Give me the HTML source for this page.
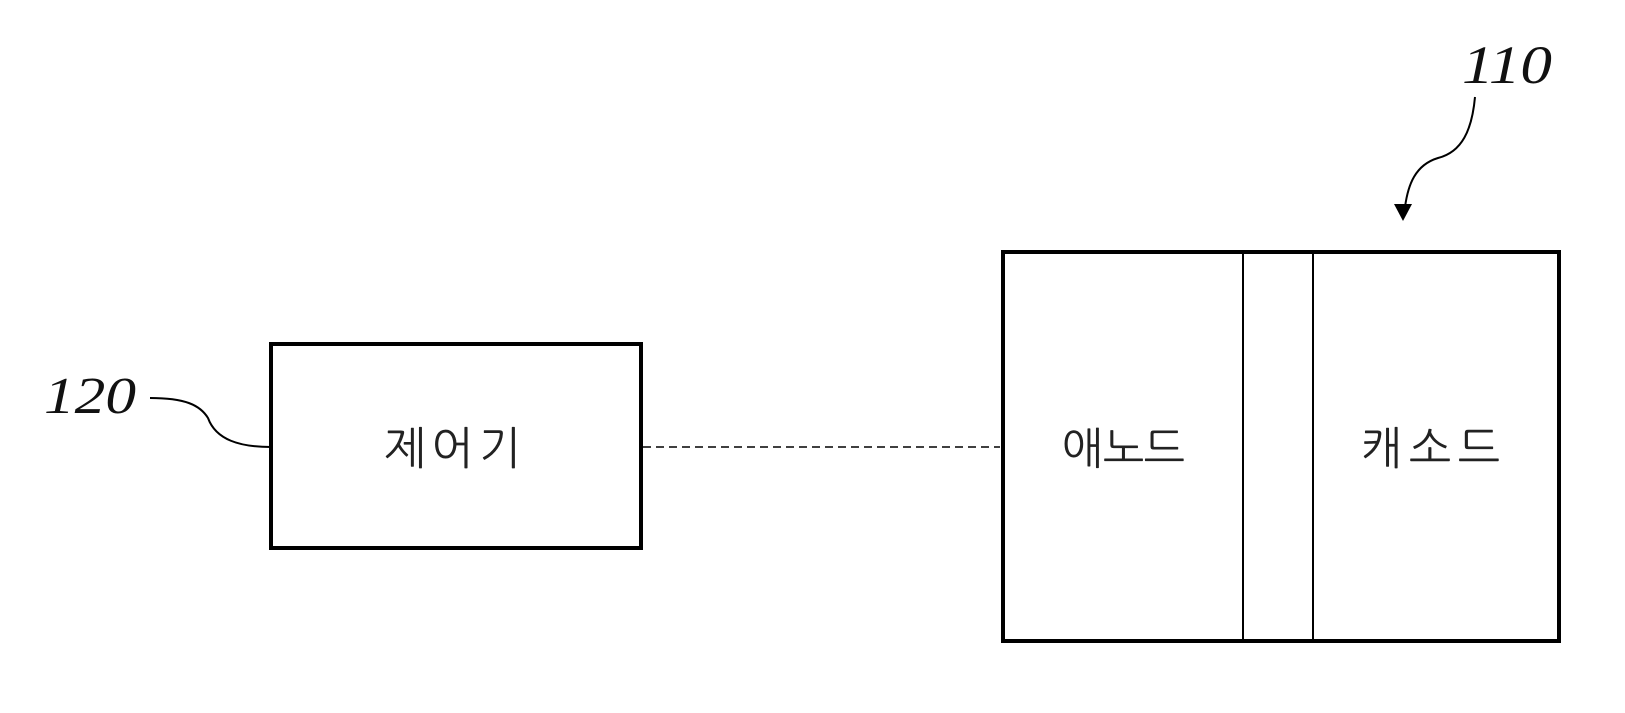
<!DOCTYPE html>
<html><head><meta charset="utf-8"><style>
html,body{margin:0;padding:0;background:#fff;}
svg{display:block}
</style></head><body>
<svg width="1625" height="713" viewBox="0 0 1625 713" xmlns="http://www.w3.org/2000/svg">
<rect width="1625" height="713" fill="#fff"/>
<!-- controller -->
<rect x="271" y="344" width="370" height="204" fill="none" stroke="#000" stroke-width="4"/>
<text x="384" y="464" textLength="137" lengthAdjust="spacing" font-family="'Liberation Sans','NanumGothic','Noto Sans CJK KR',sans-serif" font-size="45" fill="#222">제어기</text>
<!-- dashed -->
<line x1="643" y1="447" x2="1000" y2="447" stroke="#000" stroke-width="1.5" stroke-dasharray="8,5"/>
<!-- cell -->
<rect x="1003" y="252" width="556" height="389" fill="none" stroke="#000" stroke-width="4"/>
<line x1="1243" y1="252" x2="1243" y2="641" stroke="#000" stroke-width="2"/>
<line x1="1313" y1="252" x2="1313" y2="641" stroke="#000" stroke-width="2"/>
<text x="1062" y="464" textLength="123" lengthAdjust="spacing" font-family="'Liberation Sans','NanumGothic','Noto Sans CJK KR',sans-serif" font-size="44" fill="#222">애노드</text>
<text x="1360" y="464" textLength="140" lengthAdjust="spacing" font-family="'Liberation Sans','NanumGothic','Noto Sans CJK KR',sans-serif" font-size="45" fill="#222">캐소드</text>
<!-- 120 -->
<text x="44" y="413" textLength="92" lengthAdjust="spacingAndGlyphs" font-family="'Liberation Serif',serif" font-style="italic" font-size="52" fill="#111">120</text>
<path d="M150 398 C185 398 200 405 208 418 C216 440 240 447 271 447" fill="none" stroke="#000" stroke-width="2"/>
<!-- 110 -->
<text x="1462" y="83" textLength="90" lengthAdjust="spacingAndGlyphs" font-family="'Liberation Serif',serif" font-style="italic" font-size="54" fill="#111">110</text>
<path d="M1475 97 C1472 130 1462 152 1438 158 C1415 165 1408 185 1405 207" fill="none" stroke="#000" stroke-width="2"/>
<polygon points="1394,204 1412,204 1403,221" fill="#000"/>
</svg>
</body></html>
